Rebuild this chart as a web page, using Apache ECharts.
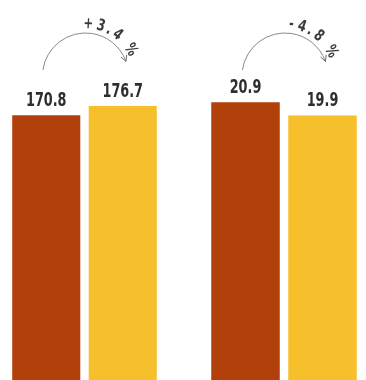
<!DOCTYPE html>
<html>
<head>
<meta charset="utf-8">
<script src="https://cdn.jsdelivr.net/npm/echarts@6/dist/echarts.min.js"></script>
<style>
html,body{margin:0;padding:0;background:#fff;}
#c{width:366px;height:380px;}
</style>
</head>
<body>
<div id="c"></div>
<script>
// Data
var categoriesLeft = ["Before", "After"];
var valuesLeft = [170.8, 176.7];
var categoriesRight = ["Before", "After"];
var valuesRight = [20.9, 19.9];
var changeLabels = ["+3.4 %", "-4.8 %"];

var RED = "#B2400B";
var YELLOW = "#F6BF2C";
var FONT = "'DejaVu Sans Condensed', 'Liberation Sans Narrow', sans-serif";

var chart = echarts.init(document.getElementById('c'), null, {renderer: 'canvas'});

function mkSeries(idx, vals) {
  return {
    type: 'bar',
    xAxisIndex: idx, yAxisIndex: idx,
    barWidth: '89%',
    data: vals.map(function (v, i) {
      return {value: v, itemStyle: {color: i === 0 ? RED : YELLOW}};
    }),
    label: {show: false}
  };
}

chart.setOption({
  animation: false,
  backgroundColor: '#fff',
  grid: [
    {left: 8, width: 153, top: 8, bottom: 0},
    {left: 207, width: 154, top: 8, bottom: 0}
  ],
  xAxis: [
    {type: 'category', gridIndex: 0, data: categoriesLeft, show: false},
    {type: 'category', gridIndex: 1, data: categoriesRight, show: false}
  ],
  yAxis: [
    {type: 'value', gridIndex: 0, min: 0, max: 240, show: false, splitLine: {show: false}},
    {type: 'value', gridIndex: 1, min: 0, max: 28, show: false, splitLine: {show: false}}
  ],
  series: [mkSeries(0, valuesLeft), mkSeries(1, valuesRight)]
});

// Value labels (condensed look) and annotation arcs
var charAngles = [
  [87, 73, 63, 52, 30],
  [83, 71, 61, 50, 28]
];
var graphics = [];
[0, 1].forEach(function (g) {
  var cats = g === 0 ? categoriesLeft : categoriesRight;
  var vals = g === 0 ? valuesLeft : valuesRight;
  var pts = vals.map(function (v, i) {
    return chart.convertToPixel({gridIndex: g}, [cats[i], v]);
  });
  pts.forEach(function (p, i) {
    graphics.push({
      type: 'text',
      x: p[0], y: p[1] - 5,
      scaleX: 0.75,
      style: {
        text: vals[i].toFixed(1),
        fontFamily: FONT, fontWeight: 'bold', fontSize: 19,
        fill: '#2e2e2e', textAlign: 'center', textVerticalAlign: 'bottom'
      }
    });
  });
  var cx = (pts[0][0] + pts[1][0]) / 2 + 1;
  var cy = 76;
  var r = 43;
  var a0 = -172 * Math.PI / 180, a1 = -21 * Math.PI / 180;
  graphics.push({
    type: 'arc',
    shape: {cx: cx, cy: cy, r: r, startAngle: a0, endAngle: a1, clockwise: true},
    style: {stroke: '#8a8a8a', lineWidth: 1, fill: null}
  });
  var ex = cx + r * Math.cos(a1), ey = cy + r * Math.sin(a1);
  var tx = -Math.sin(a1), ty = Math.cos(a1);
  var nx = -ty, ny = tx;
  var L = 5, W = 3;
  graphics.push({
    type: 'polyline',
    shape: {points: [
      [ex - tx * L + nx * W, ey - ty * L + ny * W],
      [ex + tx * 1, ey + ty * 1],
      [ex - tx * L - nx * W, ey - ty * L - ny * W]
    ]},
    style: {stroke: '#6a6a6a', lineWidth: 1, fill: null}
  });
  var txt = changeLabels[g].replace(' ', '');
  var tr = 52;
  for (var i = 0; i < txt.length; i++) {
    var ang = charAngles[g][i] * Math.PI / 180;
    var x = cx + tr * Math.cos(ang);
    var y = cy - tr * Math.sin(ang);
    graphics.push({
      type: 'text',
      x: x, y: y,
      rotation: ang - Math.PI / 2,
      scaleX: 0.8,
      style: {
        text: txt[i],
        fontFamily: FONT, fontWeight: 'bold', fontSize: 16,
        fill: '#3a3a3a', textAlign: 'center', textVerticalAlign: 'middle'
      }
    });
  }
});
chart.setOption({graphic: graphics});
</script>
</body>
</html>
